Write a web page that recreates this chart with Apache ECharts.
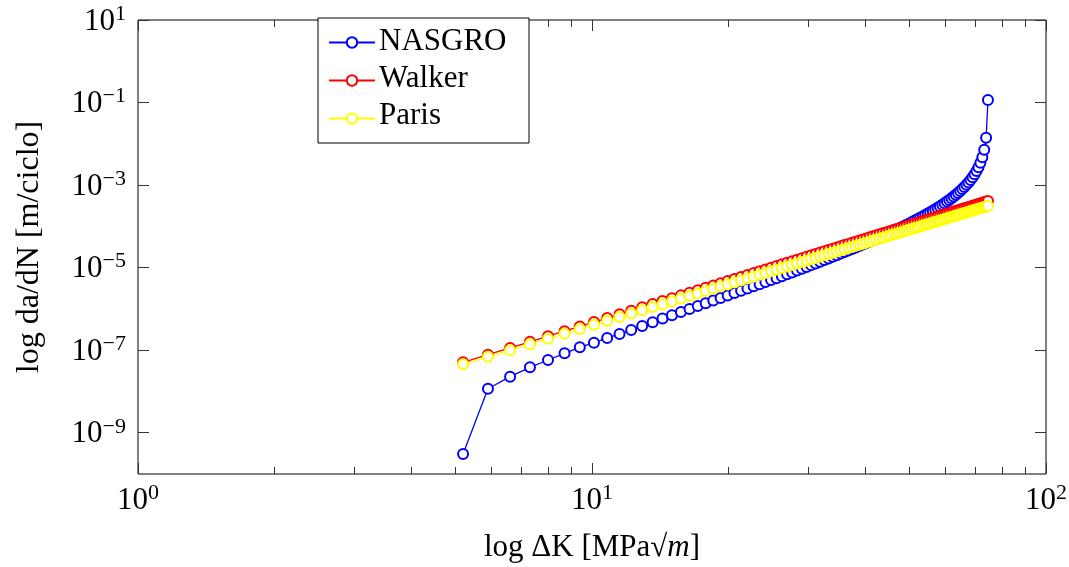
<!DOCTYPE html>
<html>
<head>
<meta charset="utf-8">
<script src="https://cdn.jsdelivr.net/npm/echarts@6/dist/echarts.min.js"></script>
<style>
html,body{margin:0;padding:0;background:#fff;}
#chart{width:1069px;height:567px;}
</style>
</head>
<body>
<div id="chart"></div>
<script>
const deltaK = [
5.2, 5.9, 6.6, 7.3, 8.0, 8.7, 9.4, 10.1, 10.8, 11.5,
12.2, 12.9, 13.6, 14.3, 15.0, 15.7, 16.4, 17.1, 17.8, 18.5,
19.2, 19.9, 20.6, 21.3, 22.0, 22.7, 23.4, 24.1, 24.8, 25.5,
26.2, 26.9, 27.6, 28.3, 29.0, 29.7, 30.4, 31.1, 31.8, 32.5,
33.2, 33.9, 34.6, 35.3, 36.0, 36.7, 37.4, 38.1, 38.8, 39.5,
40.2, 40.9, 41.6, 42.3, 43.0, 43.7, 44.4, 45.1, 45.8, 46.5,
47.2, 47.9, 48.6, 49.3, 50.0, 50.7, 51.4, 52.1, 52.8, 53.5,
54.2, 54.9, 55.6, 56.3, 57.0, 57.7, 58.4, 59.1, 59.8, 60.5,
61.2, 61.9, 62.6, 63.3, 64.0, 64.7, 65.4, 66.1, 66.8, 67.5,
68.2, 68.9, 69.6, 70.3, 71.0, 71.7, 72.4, 73.1, 73.8, 74.5
];

const nasgro = [
3.05e-10, 1.16e-8, 2.28e-8, 3.85e-8, 5.78e-8, 8.39e-8, 1.17e-7, 1.52e-7, 1.97e-7, 2.47e-7,
3.08e-7, 3.86e-7, 4.76e-7, 5.82e-7, 7.03e-7, 8.41e-7, 9.98e-7, 1.175e-6, 1.374e-6, 1.596e-6,
1.845e-6, 2.118e-6, 2.427e-6, 2.761e-6, 3.126e-6, 3.532e-6, 3.972e-6, 4.457e-6, 4.989e-6, 5.559e-6,
6.182e-6, 6.893e-6, 7.664e-6, 8.51e-6, 9.42e-6, 1.042e-5, 1.150e-5, 1.267e-5, 1.392e-5, 1.529e-5,
1.675e-5, 1.835e-5, 2.006e-5, 2.192e-5, 2.390e-5, 2.605e-5, 2.836e-5, 3.083e-5, 3.351e-5, 3.640e-5,
3.948e-5, 4.280e-5, 4.640e-5, 5.023e-5, 5.440e-5, 5.886e-5, 6.365e-5, 6.881e-5, 7.437e-5, 8.04e-5,
8.68e-5, 9.37e-5, 1.012e-4, 1.093e-4, 1.181e-4, 1.276e-4, 1.379e-4, 1.489e-4, 1.610e-4, 1.742e-4,
1.884e-4, 2.040e-4, 2.210e-4, 2.395e-4, 2.600e-4, 2.825e-4, 3.071e-4, 3.347e-4, 3.649e-4, 3.990e-4,
4.369e-4, 4.792e-4, 5.272e-4, 5.818e-4, 6.444e-4, 7.159e-4, 7.998e-4, 8.979e-4, 1.015e-3, 1.155e-3,
1.328e-3, 1.545e-3, 1.824e-3, 2.196e-3, 2.713e-3, 3.483e-3, 4.747e-3, 7.194e-3, 1.395e-2, 0.1153
];

const walker = [
5.08e-8, 7.79e-8, 1.137e-7, 1.600e-7, 2.180e-7, 2.894e-7, 3.758e-7, 4.792e-7, 6.009e-7, 7.43e-7,
9.08e-7, 1.096e-6, 1.310e-6, 1.552e-6, 1.825e-6, 2.128e-6, 2.466e-6, 2.841e-6, 3.254e-6, 3.708e-6,
4.204e-6, 4.746e-6, 5.333e-6, 5.970e-6, 6.659e-6, 7.400e-6, 8.20e-6, 9.06e-6, 9.99e-6, 1.096e-5,
1.202e-5, 1.314e-5, 1.433e-5, 1.560e-5, 1.694e-5, 1.837e-5, 1.987e-5, 2.146e-5, 2.313e-5, 2.490e-5,
2.675e-5, 2.871e-5, 3.078e-5, 3.293e-5, 3.518e-5, 3.755e-5, 4.003e-5, 4.260e-5, 4.530e-5, 4.814e-5,
5.108e-5, 5.414e-5, 5.735e-5, 6.065e-5, 6.415e-5, 6.776e-5, 7.147e-5, 7.537e-5, 7.940e-5, 8.36e-5,
8.787e-5, 9.235e-5, 9.70e-5, 1.018e-4, 1.068e-4, 1.119e-4, 1.173e-4, 1.227e-4, 1.283e-4, 1.343e-4,
1.403e-4, 1.465e-4, 1.529e-4, 1.595e-4, 1.663e-4, 1.733e-4, 1.805e-4, 1.879e-4, 1.955e-4, 2.035e-4,
2.115e-4, 2.197e-4, 2.283e-4, 2.370e-4, 2.460e-4, 2.551e-4, 2.646e-4, 2.743e-4, 2.843e-4, 2.944e-4,
3.049e-4, 3.156e-4, 3.266e-4, 3.380e-4, 3.495e-4, 3.611e-4, 3.731e-4, 3.855e-4, 3.983e-4, 4.111e-4
];

const paris = [
4.54e-8, 6.91e-8, 1.00e-7, 1.40e-7, 1.90e-7, 2.51e-7, 3.24e-7, 4.12e-7, 5.14e-7, 6.33e-7,
7.70e-7, 9.27e-7, 1.105e-6, 1.305e-6, 1.530e-6, 1.780e-6, 2.056e-6, 2.364e-6, 2.700e-6, 3.07e-6,
3.47e-6, 3.91e-6, 4.39e-6, 4.90e-6, 5.455e-6, 6.05e-6, 6.69e-6, 7.38e-6, 8.12e-6, 8.90e-6,
9.74e-6, 1.064e-5, 1.158e-5, 1.259e-5, 1.365e-5, 1.478e-5, 1.597e-5, 1.722e-5, 1.854e-5, 1.993e-5,
2.138e-5, 2.293e-5, 2.454e-5, 2.623e-5, 2.798e-5, 2.984e-5, 3.177e-5, 3.378e-5, 3.587e-5, 3.807e-5,
4.036e-5, 4.274e-5, 4.523e-5, 4.779e-5, 5.05e-5, 5.33e-5, 5.62e-5, 5.915e-5, 6.226e-5, 6.546e-5,
6.876e-5, 7.22e-5, 7.58e-5, 7.945e-5, 8.33e-5, 8.72e-5, 9.13e-5, 9.545e-5, 9.98e-5, 1.043e-4,
1.089e-4, 1.136e-4, 1.185e-4, 1.235e-4, 1.287e-4, 1.340e-4, 1.394e-4, 1.451e-4, 1.509e-4, 1.569e-4,
1.630e-4, 1.692e-4, 1.757e-4, 1.823e-4, 1.891e-4, 1.960e-4, 2.032e-4, 2.104e-4, 2.179e-4, 2.256e-4,
2.334e-4, 2.414e-4, 2.497e-4, 2.582e-4, 2.669e-4, 2.756e-4, 2.846e-4, 2.938e-4, 3.034e-4, 3.131e-4
];

const seriesNames = ['NASGRO', 'Walker', 'Paris'];
const seriesColors = ['#0000ff', '#ff0000', '#ffff00'];
const xMajorTicks = [1, 10, 100];
const xMinorTicks = [2, 3, 4, 5, 6, 7, 8, 9, 20, 30, 40, 50, 60, 70, 80, 90];
const yMajorTicks = [1e-9, 1e-7, 1e-5, 1e-3, 1e-1, 10];
const xTitle = 'log ΔK [MPa√{i|m}]';
const yTitle = 'log da/dN [m/ciclo]';

const FONT = 'Liberation Serif';
const TICK_COLOR = '#333';

const LEG_LEFT = 318, LEG_TOP = 18, LEG_PAD = [9, 15, 9, 10], LEG_ICON_W = 46, LEG_ROW = 30, LEG_GAP = 7;

function powLabel(v) {
  const e = Math.round(Math.log10(v));
  return '{b|10}{s|' + String(e).replace('-', '\u2212') + '}';
}
const labelRich = {
  b: { fontFamily: FONT, fontSize: 31, color: '#000', lineHeight: 34, verticalAlign: 'bottom' },
  s: { fontFamily: FONT, fontSize: 22, color: '#000', lineHeight: 22, verticalAlign: 'top' }
};

function xAxisDef(position, ticks, len, showLabel, extra) {
  return Object.assign({
    gridIndex: 0,
    type: 'log', logBase: 10, min: 1, max: 100, position: position,
    axisLine: { show: false },
    splitLine: { show: false },
    minorTick: { show: false },
    axisTick: { show: true, inside: true, length: len, customValues: ticks,
                lineStyle: { color: TICK_COLOR, width: 1 } },
    axisLabel: showLabel ? { show: true, customValues: xMajorTicks, formatter: powLabel,
                             rich: labelRich, margin: 8 } : { show: false }
  }, extra || {});
}
function yAxisDef(position, showLabel, extra) {
  return Object.assign({
    gridIndex: 0,
    type: 'log', logBase: 10, min: 1e-10, max: 10, position: position,
    axisLine: { show: false },
    splitLine: { show: false },
    minorTick: { show: false },
    axisTick: { show: true, inside: true, length: 11, customValues: yMajorTicks,
                lineStyle: { color: TICK_COLOR, width: 1 } },
    axisLabel: showLabel ? { show: true, customValues: yMajorTicks, formatter: powLabel,
                             rich: labelRich, margin: 12 } : { show: false }
  }, extra || {});
}

const legendTextX = LEG_LEFT + LEG_PAD[3] + LEG_ICON_W + 5;
const legendFirstY = LEG_TOP + LEG_PAD[0] + LEG_ROW / 2;
const legendSpan = (seriesNames.length - 1) * (LEG_ROW + LEG_GAP);

const chart = echarts.init(document.getElementById('chart'), null, { renderer: 'canvas' });

const option = {
  animation: false,
  backgroundColor: '#fff',
  textStyle: { fontFamily: FONT },
  grid: [
    {
      left: 138, right: 23, top: 20, bottom: 93,
      outerBoundsMode: 'none', containLabel: false,
      show: true, borderColor: '#000', borderWidth: 1, backgroundColor: 'transparent'
    },
    {
      // carrier for the legend names (rendered as serif axis labels)
      left: legendTextX, top: legendFirstY, width: 134, height: legendSpan,
      outerBoundsMode: 'none', containLabel: false, show: false
    }
  ],
  legend: {
    orient: 'vertical', left: LEG_LEFT, top: LEG_TOP,
    data: seriesNames,
    itemWidth: LEG_ICON_W, itemHeight: 13, itemGap: LEG_GAP,
    padding: LEG_PAD,
    borderColor: '#000', borderWidth: 1, backgroundColor: '#fff',
    selectedMode: false,
    z: 4,
    formatter: () => '{n| }',
    textStyle: { fontSize: 31, lineHeight: LEG_ROW, rich: { n: { width: 134, lineHeight: LEG_ROW, fontSize: 31 } } }
  },
  xAxis: [
    xAxisDef('bottom', xMajorTicks, 11, true, {
      name: xTitle, nameLocation: 'middle', nameGap: 58,
      nameTextStyle: { fontFamily: FONT, fontSize: 31, color: '#000',
                       rich: { i: { fontFamily: FONT, fontSize: 31, fontStyle: 'italic', color: '#000' } } }
    }),
    xAxisDef('bottom', xMinorTicks, 7, false),
    xAxisDef('top', xMajorTicks, 11, false),
    xAxisDef('top', xMinorTicks, 7, false),
    { gridIndex: 1, type: 'value', show: false }
  ],
  yAxis: [
    yAxisDef('left', true, {
      name: yTitle, nameLocation: 'middle', nameGap: 92,
      nameTextStyle: { fontFamily: FONT, fontSize: 32, color: '#000' }
    }),
    yAxisDef('right', false),
    {
      gridIndex: 1, type: 'category', data: seriesNames, inverse: true, boundaryGap: false,
      position: 'left', z: 20,
      axisLine: { show: false }, axisTick: { show: false }, splitLine: { show: false },
      axisLabel: {
        show: true, inside: true, margin: 0, interval: 0, align: 'left',
        formatter: v => '{n|' + v + '}',
        rich: { n: { fontFamily: FONT, fontSize: 31, color: '#000', lineHeight: LEG_ROW } }
      }
    }
  ],
  series: [nasgro, walker, paris].map((arr, si) => ({
    name: seriesNames[si],
    type: 'line',
    xAxisIndex: 0, yAxisIndex: 0,
    data: deltaK.map((k, i) => [k, arr[i]]),
    symbol: 'emptyCircle',
    symbolSize: 10,
    showSymbol: true,
    showAllSymbol: true,
    color: seriesColors[si],
    lineStyle: { color: seriesColors[si], width: 1.3 },
    itemStyle: { color: seriesColors[si], borderColor: seriesColors[si], borderWidth: 1.3 },
    emphasis: { disabled: true },
    z: 2 + si
  }))
};
chart.setOption(option);
</script>
</body>
</html>
